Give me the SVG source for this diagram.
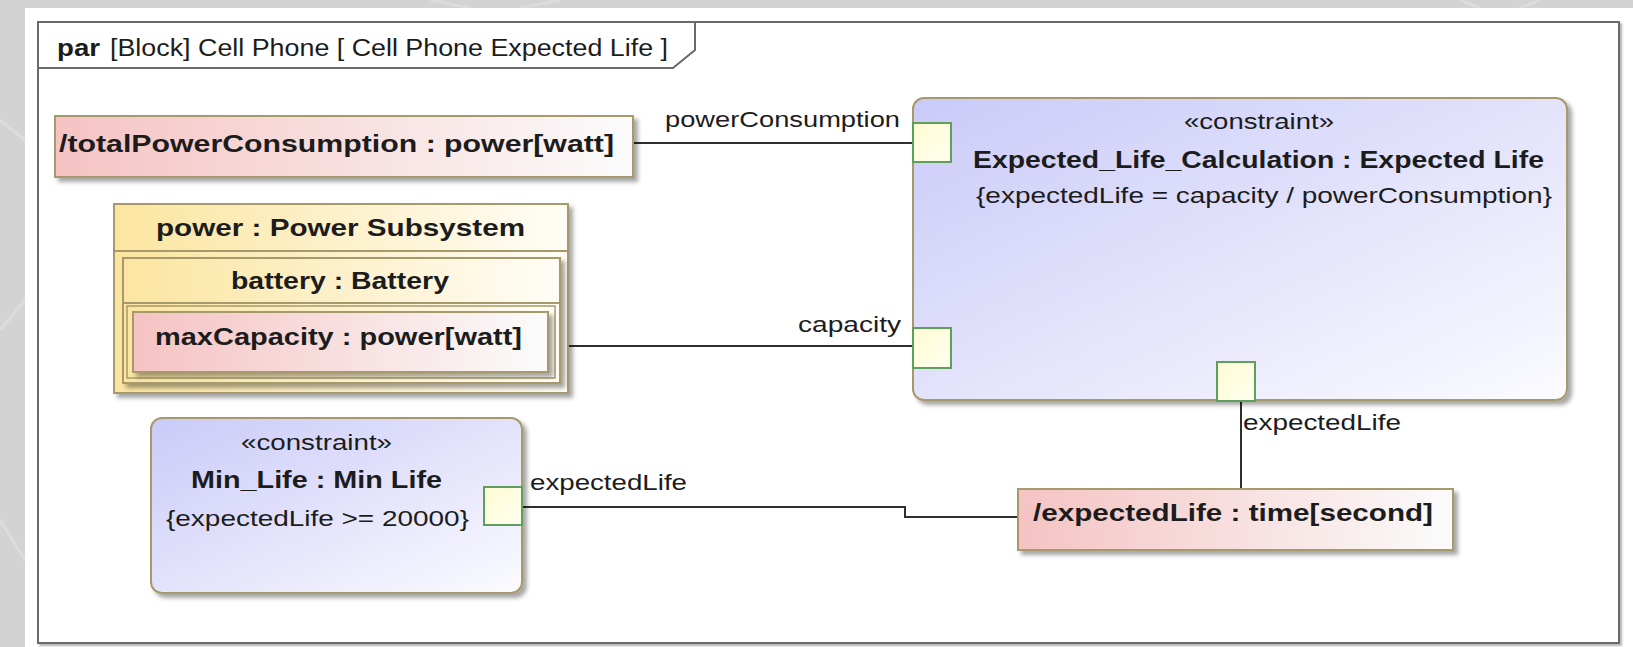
<svg xmlns="http://www.w3.org/2000/svg" width="1633" height="647" viewBox="0 0 1633 647">
<style>
text{font-family:"Liberation Sans",Arial,sans-serif;fill:#1c1c1c}
.b{font-weight:bold;font-size:23.5px}
.r{font-size:22.5px}
.t{font-size:23px}
.edge{fill:none;stroke:#2e2e2e;stroke-width:2}
.part{fill:url(#partG);stroke:#a69a6c;stroke-width:2}
.val{fill:url(#valG);stroke:#a69a6c;stroke-width:2}
.cons{fill:url(#consG);stroke:#a69a6c;stroke-width:2}
.port{fill:url(#portG);stroke:#5e9f5e;stroke-width:2}
.sep{stroke:#a69a6c;stroke-width:2;fill:none}
</style>
<defs>
<linearGradient id="partG" x1="0" y1="0" x2="1" y2="0"><stop offset="0" stop-color="#fbe5a0"/><stop offset="1" stop-color="#fffdf6"/></linearGradient>
<linearGradient id="valG" x1="0" y1="0" x2="1" y2="0"><stop offset="0" stop-color="#f5c3c3"/><stop offset="1" stop-color="#fbfbfb"/></linearGradient>
<linearGradient id="consG" x1="0" y1="0" x2="1" y2="1"><stop offset="0" stop-color="#cacaf8"/><stop offset="1" stop-color="#fbfbff"/></linearGradient>
<linearGradient id="portG" x1="0" y1="0" x2="1" y2="1"><stop offset="0" stop-color="#fffbd2"/><stop offset="1" stop-color="#fffff0"/></linearGradient>
<filter id="sh" x="-5%" y="-5%" width="115%" height="125%"><feDropShadow dx="4" dy="4" stdDeviation="2" flood-color="#000" flood-opacity="0.35"/></filter>
<filter id="fsh" x="-2%" y="-2%" width="104%" height="106%"><feDropShadow dx="2" dy="2" stdDeviation="1.2" flood-color="#000" flood-opacity="0.3"/></filter>
</defs>
<rect x="0" y="0" width="1633" height="647" fill="#d3d3d3"/>
<g stroke="#dedede" stroke-width="3" fill="none" opacity="0.8">
<path d="M430,0 L470,8 M520,8 L560,0 M1460,0 L1480,8 M1520,8 L1540,0 M0,120 L25,140 M0,330 L25,300 M0,520 L25,560"/>
</g>
<rect x="25" y="8" width="1608" height="639" fill="#ffffff"/>
<g id="frame">
<rect x="38" y="22" width="1581" height="621" fill="#ffffff" stroke="#6a6a6a" stroke-width="2" filter="url(#fsh)"/>
<path d="M38,68 H673 L695,50 V22" fill="none" stroke="#6a6a6a" stroke-width="2"/>
<text x="57" y="56" class="t" font-weight="bold" textLength="43" lengthAdjust="spacingAndGlyphs">par</text>
<text x="110" y="56" class="t" textLength="558" lengthAdjust="spacingAndGlyphs">[Block] Cell Phone [ Cell Phone Expected Life ]</text>
</g>
<g id="connectors">
<path class="edge" d="M633,143 H913"/>
<path class="edge" d="M548,346 H913"/>
<path class="edge" d="M1241,401 V489"/>
<path class="edge" d="M522,507 H905 V517 H1018"/>
<text x="665" y="127" class="r" textLength="235" lengthAdjust="spacingAndGlyphs">powerConsumption</text>
<text x="798" y="332" class="r" textLength="103" lengthAdjust="spacingAndGlyphs">capacity</text>
<text x="530" y="490" class="r" textLength="157" lengthAdjust="spacingAndGlyphs">expectedLife</text>
<text x="1243" y="430" class="r" textLength="158" lengthAdjust="spacingAndGlyphs">expectedLife</text>
</g>
<g id="totalPowerConsumption">
<rect class="val" x="55" y="116" width="578" height="61" filter="url(#sh)"/>
<text x="59" y="152" class="b" textLength="555" lengthAdjust="spacingAndGlyphs">/totalPowerConsumption : power[watt]</text>
</g>
<g id="power">
<rect class="part" x="114" y="204" width="454" height="189" filter="url(#sh)"/>
<line class="sep" x1="114" y1="251" x2="568" y2="251"/>
<text x="156" y="236" class="b" textLength="369" lengthAdjust="spacingAndGlyphs">power : Power Subsystem</text>
</g>
<g id="battery">
<rect class="part" x="123" y="258" width="437" height="125" filter="url(#sh)"/>
<line class="sep" x1="123" y1="303" x2="560" y2="303"/>
<rect x="127" y="306" width="428" height="72" fill="none" stroke="#a69a6c" stroke-width="1.5"/>
<text x="231" y="289" class="b" textLength="218" lengthAdjust="spacingAndGlyphs">battery : Battery</text>
</g>
<g id="maxCapacity">
<rect class="val" x="133" y="312" width="415" height="60" filter="url(#sh)"/>
<text x="155" y="345" class="b" textLength="367" lengthAdjust="spacingAndGlyphs">maxCapacity : power[watt]</text>
</g>
<g id="Expected_Life_Calculation">
<rect class="cons" x="913" y="98" width="654" height="302" rx="11" filter="url(#sh)"/>
<text x="1184" y="129" class="r" textLength="150" lengthAdjust="spacingAndGlyphs">«constraint»</text>
<text x="973" y="168" class="b" textLength="571" lengthAdjust="spacingAndGlyphs">Expected_Life_Calculation : Expected Life</text>
<text x="976" y="203" class="r" textLength="576" lengthAdjust="spacingAndGlyphs">{expectedLife = capacity / powerConsumption}</text>
<rect class="port" x="913" y="123" width="38" height="39"/>
<rect class="port" x="913" y="328" width="38" height="40"/>
<rect class="port" x="1217" y="362" width="38" height="39"/>
</g>
<g id="Min_Life">
<rect class="cons" x="151" y="418" width="371" height="175" rx="11" filter="url(#sh)"/>
<text x="241" y="450" class="r" textLength="151" lengthAdjust="spacingAndGlyphs">«constraint»</text>
<text x="191" y="488" class="b" textLength="251" lengthAdjust="spacingAndGlyphs">Min_Life : Min Life</text>
<text x="166" y="526" class="r" textLength="303" lengthAdjust="spacingAndGlyphs">{expectedLife &gt;= 20000}</text>
<rect class="port" x="484" y="487" width="38" height="38"/>
</g>
<g id="expectedLife">
<rect class="val" x="1018" y="489" width="435" height="61" filter="url(#sh)"/>
<text x="1033" y="521" class="b" textLength="400" lengthAdjust="spacingAndGlyphs">/expectedLife : time[second]</text>
</g>
</svg>
